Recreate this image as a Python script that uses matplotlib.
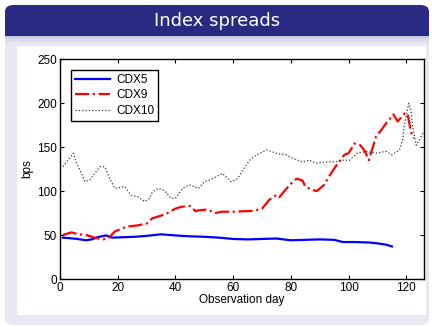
import matplotlib
matplotlib.use("Agg")
import matplotlib.pyplot as plt
from matplotlib.patches import FancyBboxPatch, Rectangle

# CDX index spreads (bps)
cdx5_day = [1, 3, 6, 9, 11, 13, 16, 18, 22, 26, 30, 35, 40, 45, 50, 55, 60, 65,
            70, 75, 80, 85, 90, 95, 98, 102, 107, 110, 113, 115]
cdx5_bps = [47, 46.5, 45.5, 44, 45, 47.5, 49.5, 47, 47.5, 48, 49, 50.8, 49.5,
            48.5, 48, 47, 45.5, 45, 45.5, 46, 44, 44.5, 45, 44.5, 42, 42, 41.5,
            40.5, 39, 37]

cdx9_day = [1, 4, 6, 9, 12, 15, 17, 19, 23, 27, 30, 32, 35, 37, 40, 42, 45, 47,
            48, 51, 54, 56, 60, 64, 67, 70, 72.5, 75, 76, 78, 80.5, 82, 84, 85,
            87.5, 89, 91.5, 93.5, 95.5, 98.5, 100, 102, 104, 105.5, 107, 109.5,
            111, 113, 115.5, 117, 119.3, 120.4, 121.6, 122.5]
cdx9_bps = [50, 53, 51, 50, 47, 45, 47, 54, 59.5, 61, 63, 69, 72, 74.5, 80, 82,
            83, 77, 78, 79, 75, 76.5, 76.5, 77, 77.5, 80, 90, 95.5, 93, 101, 110,
            114, 112, 105, 101, 100, 107, 118, 128, 141, 143, 154, 152, 146, 135,
            162, 168, 177, 187, 179, 188, 188, 167, 160]

cdx10_day = [1, 2.3, 4.6, 5.8, 6.9, 8.6, 10.3, 12, 13.8, 15.5, 17.2, 19, 22.4,
             24.7, 27, 29.3, 31, 32, 34, 36, 38.5, 40, 42.5, 44.8, 48, 50, 51.7,
             54, 56.3, 59.2, 61.5, 63.4, 65.7, 68, 71.7, 75, 78.4, 80.7, 84, 86.4,
             88.7, 92, 95, 98, 100.3, 103, 106, 109.5, 113, 115, 117.6, 118.7,
             119.3, 119.9, 120.8, 121.6, 122.2, 122.8, 123.4, 124.5, 125.7]
cdx10_bps = [127.6, 133, 143, 131, 124, 110.6, 112.5, 120, 127.6, 127.6, 114,
             103, 105, 95, 93.5, 88, 91.7, 99, 103, 101, 91.7, 91.7, 103, 107,
             103, 110.6, 112.5, 116, 120, 110.6, 114, 124, 135, 141, 146.6,
             142.8, 141, 137, 133, 135, 131.5, 133, 133, 135, 135, 143, 145, 143,
             145, 141, 146.6, 158, 175, 184, 199.6, 192, 173, 162, 152, 158, 165.6]

W, H = 432, 327
fig = plt.figure(figsize=(W / 100, H / 100), dpi=100)
fig.patch.set_facecolor("white")


def box(x0, y0, x1, y1):
    # pixel box (top-left origin) -> figure fraction
    return x0 / W, 1 - y1 / H, (x1 - x0) / W, (y1 - y0) / H


def add(p):
    p.set_zorder(-10)
    fig.patches.append(p)


# beamer block: lavender body, shading strip, dark title bar
x, y, w, h = box(5, 30, 429, 325)
add(FancyBboxPatch((x, y), w, h, boxstyle="round,pad=0,rounding_size=0.02",
                   transform=fig.transFigure, fc="#e8e8f3", ec="none"))
shade = ["#c9c9e0", "#d2d2e6", "#dadaeb", "#e1e1ef", "#e6e6f2"]
for i, c in enumerate(shade):
    x, y, w, h = box(5, 36 + i * 1.6, 429, 37.6 + i * 1.6)
    add(Rectangle((x, y), w, h, transform=fig.transFigure, fc=c, ec="none"))
x, y, w, h = box(5, 5, 429, 36)
add(FancyBboxPatch((x, y), w, h, boxstyle="round,pad=0,rounding_size=0.02",
                   transform=fig.transFigure, fc="#2a2a84", ec="none"))
x, y, w, h = box(5, 22, 429, 36)
add(Rectangle((x, y), w, h, transform=fig.transFigure, fc="#2a2a84", ec="none"))
x, y, w, h = box(17, 46, 426, 315)
add(Rectangle((x, y), w, h, transform=fig.transFigure, fc="white", ec="none"))

fig.text(217 / W, 1 - 21 / H, "Index spreads", color="white", fontsize=13,
         family="DejaVu Sans", ha="center", va="center")

fs = 8.5
ax = fig.add_axes(box(60, 59, 423.7, 279))
ax.set_zorder(5)
ax.plot(cdx5_day, cdx5_bps, color="blue", lw=1.6, label="CDX5")
ax.plot(cdx9_day, cdx9_bps, color="red", lw=1.6, ls="-.", label="CDX9")
ax.plot(cdx10_day, cdx10_bps, color="#333333", lw=0.9, ls=":", label="CDX10")

ax.set_xlim(0, 126)
ax.set_ylim(0, 250)
ax.set_xticks(range(0, 121, 20))
ax.set_yticks(range(0, 251, 50))
ax.tick_params(direction="in", top=True, right=True, labelsize=fs, length=3, pad=2)
for t in ax.get_xticklabels() + ax.get_yticklabels():
    t.set_family("Liberation Sans")
for s in ax.spines.values():
    s.set_linewidth(1.0)
ax.set_xlabel("Observation day", fontsize=fs, family="Liberation Sans", labelpad=0)
ax.set_ylabel("bps", fontsize=fs, family="Liberation Sans", labelpad=3)

leg = ax.legend(loc="upper left", fancybox=False, edgecolor="black", framealpha=1,
                prop={"family": "Liberation Sans", "size": fs}, handlelength=3.0,
                labelspacing=0.3, borderpad=0.3, handletextpad=0.5,
                bbox_to_anchor=(0.015, 0.975))
leg.get_frame().set_linewidth(1.0)

fig.savefig("out.png", dpi=100)
